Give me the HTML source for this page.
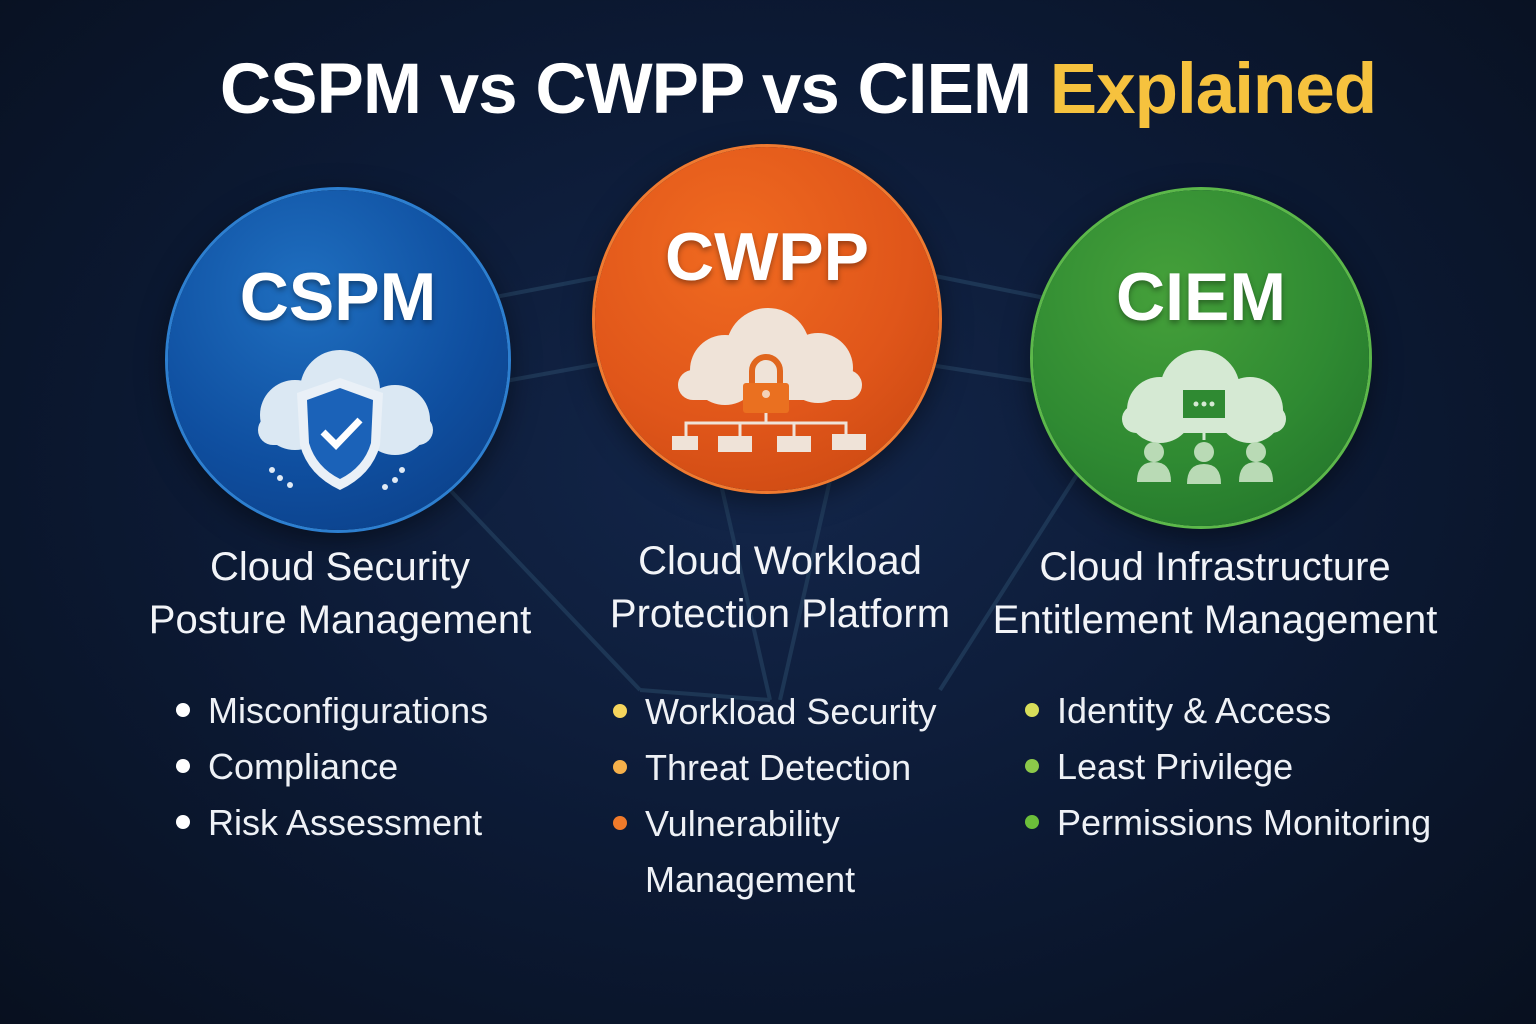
<!DOCTYPE html>
<html><head><meta charset="utf-8"><style>
html,body{margin:0;padding:0}
body{width:1536px;height:1024px;overflow:hidden;position:relative;font-family:"Liberation Sans",sans-serif;
background:radial-gradient(ellipse at 50% 45%,#13264a 0%,#0c1a35 50%,#08101f 100%);color:#fff}
.t{position:absolute;white-space:nowrap}
.title{left:0;width:1596px;text-align:center;top:49px;font-size:71px;font-weight:bold;letter-spacing:-1px}
.c{position:absolute;border-radius:50%}
.lab{font-size:40px;text-align:center;line-height:53px;color:#f2f4f8}
.li{font-size:36px;color:#eef1f6;line-height:56px}
.dot{display:inline-block;width:14px;height:14px;border-radius:50%;margin-right:18px;vertical-align:middle;position:relative;top:-3px}
.ab{font-size:68px;font-weight:bold;text-align:center;text-shadow:0 3px 6px rgba(0,0,0,.35)}
</style></head><body>
<svg width="1536" height="1024" style="position:absolute;left:0;top:0">
<g stroke="#24405f" stroke-width="4" fill="none" opacity=".7">
<line x1="490" y1="298" x2="610" y2="275"/>
<line x1="500" y1="382" x2="610" y2="362"/>
<line x1="930" y1="275" x2="1045" y2="298"/>
<line x1="930" y1="365" x2="1040" y2="382"/>
<line x1="450" y1="490" x2="640" y2="690"/>
<line x1="720" y1="480" x2="770" y2="700"/>
<line x1="830" y1="480" x2="780" y2="700"/>
<line x1="1080" y1="470" x2="940" y2="690"/>
<line x1="640" y1="690" x2="770" y2="700"/>
</g></svg>
<div class="t title">CSPM vs CWPP vs CIEM <span style="color:#f6c23e">Explained</span></div>

<div class="c" style="left:168px;top:190px;width:340px;height:340px;background:radial-gradient(circle at 40% 30%,#1f6fc0,#0f4fa0 55%,#0a3a80);box-shadow:0 0 0 3px #2d7fd0,0 8px 30px rgba(0,0,0,.5)"></div>
<div class="c" style="left:595px;top:147px;width:344px;height:344px;background:radial-gradient(circle at 40% 30%,#f06a20,#e0561a 55%,#c4440f);box-shadow:0 0 0 3px #f07a30,0 8px 30px rgba(0,0,0,.5)"></div>
<div class="c" style="left:1033px;top:190px;width:336px;height:336px;background:radial-gradient(circle at 40% 30%,#45a03a,#2f8a32 55%,#1f6e28);box-shadow:0 0 0 3px #5cb84a,0 8px 30px rgba(0,0,0,.5)"></div>

<div class="t ab" style="left:168px;width:340px;top:258px">CSPM</div>
<div class="t ab" style="left:595px;width:344px;top:218px">CWPP</div>
<div class="t ab" style="left:1033px;width:336px;top:258px">CIEM</div>

<svg width="1536" height="1024" style="position:absolute;left:0;top:0">
<g fill="#dbe8f3">
<circle cx="340" cy="390" r="40"/><circle cx="295" cy="415" r="35"/><circle cx="395" cy="420" r="35"/><rect x="258" y="415" width="175" height="30" rx="15"/>
</g>
<path d="M340 378 L383 393 L380 445 Q372 475 340 490 Q308 475 300 445 L297 393 Z" fill="#e9f0f7"/>
<path d="M340 388 L373 400 L371 443 Q364 467 340 479 Q316 467 309 443 L307 400 Z" fill="#1b62b8"/>
<path d="M323 432 L336 445 L360 420" stroke="#fff" stroke-width="7" fill="none"/>
<g fill="#e0eaf5"><circle cx="272" cy="470" r="3"/><circle cx="280" cy="478" r="3"/><circle cx="290" cy="485" r="3"/><circle cx="402" cy="470" r="3"/><circle cx="395" cy="480" r="3"/><circle cx="385" cy="487" r="3"/></g>
<g fill="#efe3d8">
<circle cx="768" cy="350" r="42"/><circle cx="725" cy="370" r="35"/><circle cx="818" cy="368" r="35"/><rect x="678" y="370" width="184" height="30" rx="15"/>
</g>
<path d="M752 385 v-14 a14 14 0 0 1 28 0 v14" stroke="#e0661e" stroke-width="6" fill="none"/>
<rect x="743" y="383" width="46" height="30" rx="3" fill="#ea7020"/>
<circle cx="766" cy="394" r="4" fill="#f3d2b8"/>
<g stroke="#efe3d8" stroke-width="3" fill="none"><path d="M686 437 v-14 h160 v14 M740 437 v-14 M794 437 v-14 M766 413 v10"/></g>
<g fill="#efe3d8"><rect x="672" y="436" width="26" height="14"/><rect x="718" y="436" width="34" height="16"/><rect x="777" y="436" width="34" height="16"/><rect x="832" y="434" width="34" height="16"/></g>
<g fill="#d5e9d3">
<circle cx="1200" cy="390" r="40"/><circle cx="1160" cy="410" r="33"/><circle cx="1250" cy="410" r="33"/><rect x="1122" y="405" width="164" height="28" rx="14"/>
</g>
<rect x="1183" y="390" width="42" height="28" fill="#2f8a32"/>
<g fill="#d5e9d3"><circle cx="1196" cy="404" r="2.5"/><circle cx="1204" cy="404" r="2.5"/><circle cx="1212" cy="404" r="2.5"/></g>
<line x1="1204" y1="418" x2="1204" y2="440" stroke="#d5e9d3" stroke-width="3"/>
<g fill="#b9dab5">
<circle cx="1154" cy="452" r="10"/><path d="M1137 482 q0-20 17-20 q17 0 17 20z"/>
<circle cx="1204" cy="452" r="10"/><path d="M1187 484 q0-20 17-20 q17 0 17 20z"/>
<circle cx="1256" cy="452" r="10"/><path d="M1239 482 q0-20 17-20 q17 0 17 20z"/>
</g>
</svg>

<div class="t lab" style="left:135px;width:410px;top:541px">Cloud Security<br>Posture Management</div>
<div class="t lab" style="left:575px;width:410px;top:535px">Cloud Workload<br>Protection Platform</div>
<div class="t lab" style="left:980px;width:470px;top:541px">Cloud Infrastructure<br>Entitlement Management</div>

<div class="t li" style="left:176px;top:683px"><span class="dot" style="background:#fff"></span>Misconfigurations<br><span class="dot" style="background:#fff"></span>Compliance<br><span class="dot" style="background:#fff"></span>Risk Assessment</div>
<div class="t li" style="left:613px;top:684px"><span class="dot" style="background:#f6d55c"></span>Workload Security<br><span class="dot" style="background:#f6b04a"></span>Threat Detection<br><span class="dot" style="background:#f07a2a"></span>Vulnerability<br><span style="display:inline-block;width:32px"></span>Management</div>
<div class="t li" style="left:1025px;top:683px"><span class="dot" style="background:#d8de5a"></span>Identity &amp; Access<br><span class="dot" style="background:#8cc84a"></span>Least Privilege<br><span class="dot" style="background:#6cbf3a"></span>Permissions Monitoring</div>
</body></html>
